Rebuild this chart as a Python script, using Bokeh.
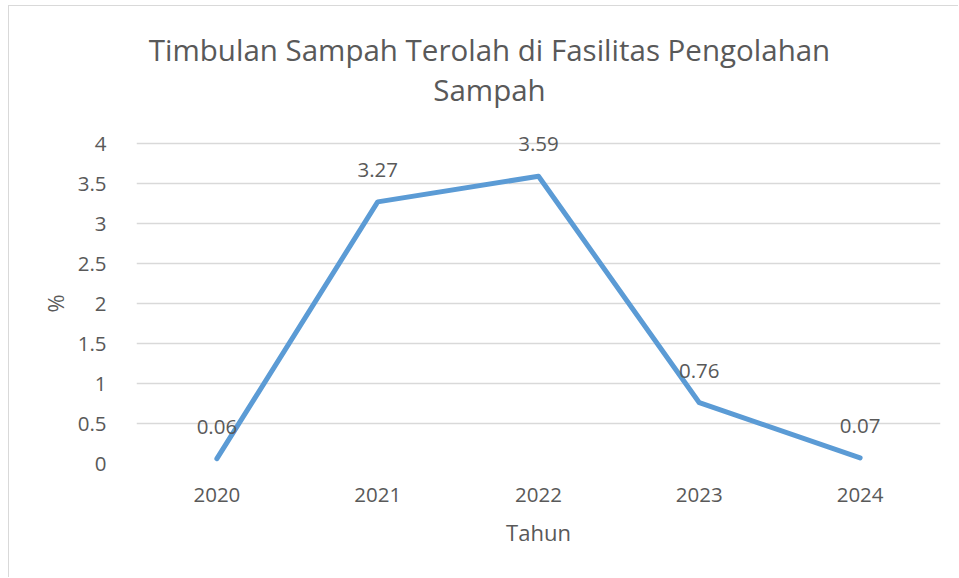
from bokeh.plotting import figure
from bokeh.models import ColumnDataSource, LabelSet, Label, FixedTicker, Title
from bokeh.core.properties import value
from bokeh.embed import file_html
from bokeh.resources import INLINE

years = ["2020", "2021", "2022", "2023", "2024"]
values = [0.06, 3.27, 3.59, 0.76, 0.07]
value_labels = ["0.06", "3.27", "3.59", "0.76", "0.07"]
y_ticks = [0, 0.5, 1, 1.5, 2, 2.5, 3, 3.5, 4]
y_tick_labels = ["0", "0.5", "1", "1.5", "2", "2.5", "3", "3.5", "4"]
title_lines = ["Timbulan Sampah Terolah di Fasilitas Pengolahan", "Sampah"]
x_title = "Tahun"
y_title = "%"

FONT = "Open Sans"
TXT = "#595959"
GRID = "#d9d9d9"
LINE = "#5b9bd5"

W, H = 950, 572
# frame spans page y 143 (value 4) .. 463 (value 0): 80 px per unit;
# extend the range up to the canvas top so labels above the frame are not clipped
Y_TOP = 4 + (143 - 6) / 80.0
p = figure(x_range=years, y_range=(0, Y_TOP), width=W, height=H,
           output_backend="svg", toolbar_location=None,
           min_border_left=127, min_border_right=19,
           min_border_top=0, min_border_bottom=115)
p.styles = {"margin-left": "8px", "margin-top": "5px",
            "border-left": "1px solid #d9d9d9", "border-top": "1px solid #d9d9d9"}
p.outline_line_color = None
p.background_fill_color = "white"
p.border_fill_color = "white"

src = ColumnDataSource(dict(x=years, y=values, t=value_labels))
p.line("x", "y", source=src, line_color=LINE, line_width=5,
       line_join="round", line_cap="round")

labels = LabelSet(x="x", y="y", text="t", source=src, y_offset=32,
                  text_align="center", text_baseline="middle",
                  text_font=value(FONT), text_font_size="20.5px", text_color=TXT)
p.add_layout(labels)

# axes
p.yaxis.ticker = FixedTicker(ticks=y_ticks)
p.yaxis.major_label_overrides = {t: l for t, l in zip(y_ticks, y_tick_labels)}
for ax in (p.xaxis[0], p.yaxis[0]):
    ax.axis_line_color = None
    ax.major_tick_line_color = None
    ax.minor_tick_line_color = None
    ax.major_label_text_font = FONT
    ax.major_label_text_font_size = "20.5px"
    ax.major_label_text_color = TXT
    ax.axis_label_text_font = FONT
    ax.axis_label_text_font_size = "22px"
    ax.axis_label_text_font_style = "normal"
    ax.axis_label_text_color = TXT
p.xaxis.major_label_standoff = 18
p.yaxis.major_label_standoff = 24
p.xaxis.axis_label = x_title
p.xaxis.axis_label_standoff = 12

p.xgrid.grid_line_color = None
p.ygrid.grid_line_color = GRID
p.ygrid.grid_line_width = 1.5

# y axis title, placed beside the 0..4 part of the frame
p.add_layout(Title(text=y_title, align="left", offset=151, standoff=10,
                   text_font=FONT, text_font_size="22px", text_font_style="normal",
                   text_color=TXT), "left")

# title lines (screen units from the frame's bottom-left)
for i, line in enumerate(title_lines):
    p.add_layout(Label(x=353, y=414 - i * 40, x_units="screen", y_units="screen",
                       text=line, text_align="center", text_baseline="middle",
                       text_font=FONT, text_font_size="29.5px", text_color=TXT))

open("out.html", "w").write(file_html(p, INLINE))
